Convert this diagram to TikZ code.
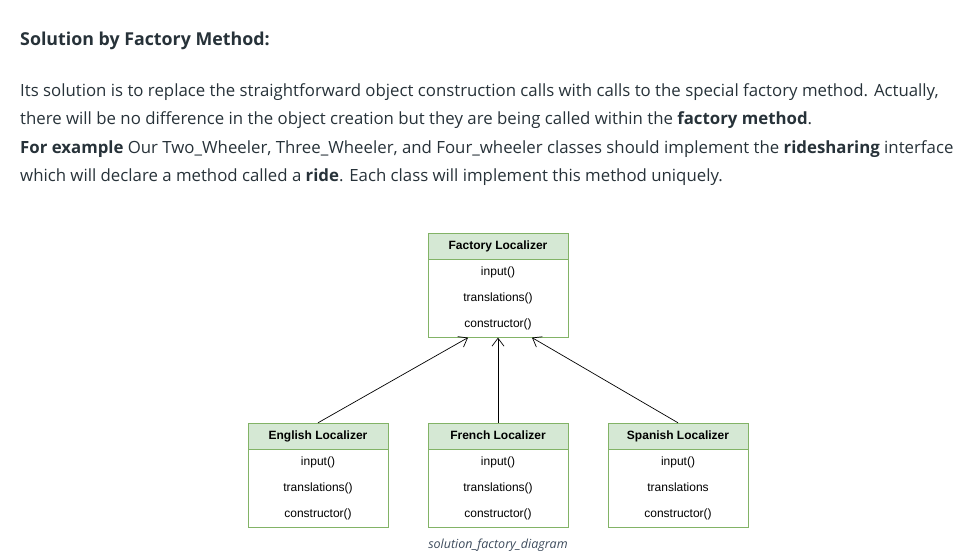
\documentclass[tikz,border=0pt]{standalone}
\usepackage{fontspec}
\setmainfont{Open Sans}
\newfontfamily\umlfont{Liberation Sans}
\usepackage{xcolor}
\usetikzlibrary{arrows.meta,positioning}
\definecolor{cText}   {RGB}{39,50,57}
\definecolor{cHead}   {RGB}{213,232,212}
\definecolor{cBorder} {RGB}{130,179,102}
\definecolor{cCaption}{RGB}{61,75,92}
\tikzset{
  prose/.style={anchor=base west,inner sep=0pt,text=cText,font=\fontsize{16.8}{20}\selectfont},
  clshead/.style={draw=cBorder,fill=cHead,minimum width=140pt,minimum height=26pt,
                  inner sep=0pt,text height=9pt,text depth=2.5pt,
                  font=\umlfont\bfseries\fontsize{12}{14}\selectfont},
  clsbody/.style={draw=cBorder,fill=white,minimum width=140pt,minimum height=78pt,
                  inner sep=0pt,align=center,font=\umlfont\fontsize{12}{26}\selectfont},
  realize/.style={-{Straight Barb[length=8pt,width=12pt]},black,line width=0.7pt},
}
\begin{document}
\begin{tikzpicture}[x=1pt,y=-1pt]
  \useasboundingbox (0,0) rectangle (958,554);
  % text above the diagram
  \node[prose,font=\bfseries\fontsize{17.8}{20}\selectfont] (title) at (20,45) {Solution by Factory Method:};
  \node[prose] (l1) at (20,96)  {Its solution is to replace the straightforward object construction calls with calls to the special factory method. Actually,};
  \node[prose] (l2) at (20,124) {there will be no difference in the object creation but they are being called within the \textbf{factory method}.};
  \node[prose] (l3) at (20,153) {\textbf{For example} Our Two\_Wheeler, Three\_Wheeler, and Four\_wheeler classes should implement the \textbf{ridesharing} interface};
  \node[prose] (l4) at (20,181) {which will declare a method called a \textbf{ride}. Each class will implement this method uniquely.};
  % factory class
  \node[clshead] (fHead) at (498,246) {Factory Localizer};
  \node[clsbody,below=0pt of fHead] (fBody) {input()\\translations()\\constructor()};
  % concrete classes
  \node[clshead] (eHead) at (318,436) {English Localizer};
  \node[clsbody,below=0pt of eHead] (eBody) {input()\\translations()\\constructor()};
  \node[clshead] (frHead) at (498,436) {French Localizer};
  \node[clsbody,below=0pt of frHead] (frBody) {input()\\translations()\\constructor()};
  \node[clshead] (sHead) at (678,436) {Spanish Localizer};
  \node[clsbody,below=0pt of sHead] (sBody) {input()\\translations\\constructor()};

  \draw[realize] (eHead.north)  -- ([xshift=-30pt]fBody.south);
  \draw[realize] (frHead.north) -- (fBody.south);
  \draw[realize] (sHead.north)  -- ([xshift=34pt]fBody.south);

  \node[font=\itshape\fontsize{12.5}{14}\selectfont,text=cCaption,below=8pt of frBody] (caption) {solution\_factory\_diagram};
\end{tikzpicture}
\end{document}
